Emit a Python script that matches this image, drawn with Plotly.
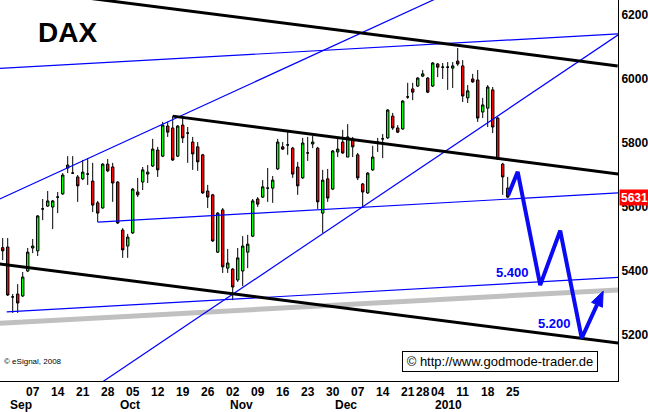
import math
import plotly.graph_objects as go

# ---------------- data ----------------
opens = [5473, 5475, 5319, 5328, 5322, 5400, 5472, 5463, 5594, 5603,
         5600, 5631, 5641, 5722, 5706, 5694, 5688, 5703, 5681, 5613,
         5597, 5734, 5725, 5678, 5528, 5478, 5519, 5647, 5678, 5703,
         5728, 5778, 5759, 5853, 5847, 5759, 5856, 5831, 5803, 5788,
         5763, 5650, 5638, 5459, 5591, 5409, 5406, 5372, 5400, 5459,
         5509, 5625, 5631, 5659, 5659, 5719, 5788, 5794, 5784, 5725,
         5691, 5769, 5797, 5784, 5581, 5688, 5656, 5772, 5803, 5756,
         5813, 5763, 5672, 5644, 5716, 5800, 5813, 5816, 5884, 5847,
         5844, 5944, 5969, 5978, 6009, 6003, 5978, 6047, 6037, 6037,
         6034, 6056, 6041, 5941, 6000, 5997, 5897, 5909, 5966, 5878,
         5734, 5659]
highs = [5503, 5503, 5328, 5359, 5397, 5472, 5500, 5575, 5625, 5650,
         5622, 5647, 5706, 5759, 5759, 5700, 5747, 5753, 5738, 5619,
         5737, 5750, 5738, 5681, 5534, 5516, 5659, 5691, 5725, 5731,
         5813, 5788, 5866, 5866, 5884, 5856, 5878, 5850, 5819, 5803,
         5766, 5669, 5641, 5584, 5597, 5469, 5409, 5472, 5509, 5513,
         5625, 5631, 5684, 5722, 5697, 5813, 5803, 5841, 5788, 5741,
         5816, 5819, 5822, 5788, 5716, 5719, 5778, 5816, 5841, 5859,
         5819, 5769, 5675, 5709, 5791, 5816, 5828, 5906, 5894, 5856,
         5934, 5988, 5988, 6006, 6028, 6006, 6053, 6050, 6050, 6053,
         6053, 6097, 6059, 5981, 6016, 6028, 5941, 5981, 5975, 5881,
         5738, 5694]
lows = [5434, 5322, 5269, 5269, 5319, 5397, 5456, 5447, 5559, 5600,
        5531, 5581, 5638, 5706, 5703, 5616, 5684, 5669, 5584, 5553,
        5595, 5709, 5616, 5547, 5441, 5441, 5516, 5631, 5653, 5675,
        5725, 5694, 5756, 5819, 5744, 5756, 5800, 5738, 5716, 5713,
        5641, 5597, 5491, 5456, 5394, 5394, 5309, 5366, 5353, 5409,
        5506, 5600, 5628, 5616, 5613, 5716, 5778, 5763, 5691, 5638,
        5688, 5744, 5784, 5594, 5519, 5616, 5653, 5756, 5766, 5756,
        5756, 5684, 5600, 5641, 5713, 5772, 5753, 5813, 5841, 5831,
        5841, 5938, 5934, 5975, 6006, 5956, 5975, 6006, 6000, 5966,
        5972, 6041, 5928, 5925, 5988, 5866, 5878, 5850, 5831, 5747,
        5638, 5628]
closes = [5463, 5325, 5319, 5300, 5381, 5459, 5478, 5572, 5594, 5619,
          5619, 5631, 5700, 5731, 5706, 5666, 5709, 5703, 5606, 5581,
          5734, 5713, 5675, 5550, 5466, 5506, 5656, 5638, 5716, 5709,
          5781, 5716, 5856, 5834, 5747, 5853, 5816, 5831, 5766, 5741,
          5644, 5631, 5494, 5581, 5413, 5425, 5350, 5441, 5478, 5484,
          5619, 5609, 5663, 5659, 5684, 5803, 5781, 5794, 5703, 5666,
          5800, 5769, 5803, 5616, 5684, 5628, 5775, 5781, 5769, 5819,
          5788, 5691, 5647, 5706, 5756, 5803, 5813, 5903, 5847, 5834,
          5931, 5944, 5959, 6003, 6016, 5959, 6050, 6037, 6037, 6037,
          6041, 6047, 5947, 5963, 5991, 5878, 5919, 5975, 5850, 5750,
          5694, 5631]
day_index = list(range(len(opens)))          # trading-day positions

# x-axis ticks (trading-day index of each Monday) and labels
tick_index = [6, 11, 16, 21, 26, 31, 36, 41, 46, 51, 56, 61, 66, 71, 76,
              81, 84, 87, 92, 97, 102]
tick_text = ["07", "14", "21", "28", "05", "12", "19", "26", "02", "09",
             "16", "23", "30", "07", "14", "21", "28", "04", "11", "18", "25"]
month_index = [2, 24, 46, 67, 87]
month_text = ["Sep", "Oct", "Nov", "Dec", "2010"]

y_ticks = [5200, 5400, 5600, 5800, 6000, 6200]
last_price = 5631

# trend lines (x = trading-day index, y = index level)
black_upper_x, black_upper_y = [0, 123], [6287, 6041]
black_mid_x, black_mid_y = [34, 123.1], [5884, 5703]
black_low_x, black_low_y = [-0.6, 123.1], [5422, 5175]
blue_top_x, blue_top_y = [-0.6, 123.1], [6033, 6141]
blue_steep1_x, blue_steep1_y = [-0.6, 90], [5625, 6275]
blue_steep2_x, blue_steep2_y = [18, 123.1], [5033, 6138]
blue_mid_x, blue_mid_y = [19, 123.1], [5553, 5644]
blue_low_x, blue_low_y = [0.8, 123.1], [5272, 5380]
gray_x, gray_y = [-0.6, 123.1], [5237, 5341]

# projected path
proj_x = [101.1, 103.0, 107.5, 111.5, 115.8, 120.1]
proj_y = [5637, 5710, 5356, 5526, 5190, 5337]
proj_labels = ["5.400", "5.200"]
proj_label_x = [102.0, 110.4]
proj_label_y = [5394, 5237]

# ---------------- figure ----------------
X_RANGE = [-0.54, 123.06]
Y_RANGE = [5056.3, 6246.9]
PW, PH = 618, 381
FONT = "Liberation Sans, Arial, sans-serif"

fig = go.Figure()
fig.add_trace(go.Candlestick(
    x=day_index, open=opens, high=highs, low=lows, close=closes,
    increasing=dict(line=dict(color="black", width=1), fillcolor="#00FF00"),
    decreasing=dict(line=dict(color="black", width=1), fillcolor="#FF0000"),
    whiskerwidth=0, hoverinfo="skip",
))

def add_line(x, y, color, width):
    fig.add_trace(go.Scatter(x=x, y=y, mode="lines",
                             line=dict(color=color, width=width),
                             hoverinfo="skip"))

add_line(gray_x, gray_y, "#C0C0C0", 5)
add_line(blue_top_x, blue_top_y, "#0000FF", 1.2)
add_line(blue_steep1_x, blue_steep1_y, "#0000FF", 1.2)
add_line(blue_steep2_x, blue_steep2_y, "#0000FF", 1.2)
add_line(blue_mid_x, blue_mid_y, "#0000FF", 1.2)
add_line(blue_low_x, blue_low_y, "#0000FF", 1.2)
add_line(black_upper_x, black_upper_y, "black", 3)
add_line(black_mid_x, black_mid_y, "black", 3)
add_line(black_low_x, black_low_y, "black", 3)

# projection arrow: polyline + head computed in pixel space
sx = PW / (X_RANGE[1] - X_RANGE[0])
sy = PH / (Y_RANGE[1] - Y_RANGE[0])
dx = (proj_x[-1] - proj_x[-2]) * sx
dy = (proj_y[-1] - proj_y[-2]) * sy
L = math.hypot(dx, dy)
ux, uy = dx / L, dy / L
hl, hw = 15, 6
bx, by = -hl * ux, -hl * uy
px_, py_ = -uy, ux
base_x = proj_x[-1] + bx / sx
base_y = proj_y[-1] + by / sy
head_x = [proj_x[-1], proj_x[-1] + (bx + hw * px_) / sx,
          proj_x[-1] + (bx - hw * px_) / sx, proj_x[-1]]
head_y = [proj_y[-1], proj_y[-1] + (by + hw * py_) / sy,
          proj_y[-1] + (by - hw * py_) / sy, proj_y[-1]]
add_line(proj_x[:-1] + [base_x], proj_y[:-1] + [base_y], "#0A0AF5", 4)
fig.add_trace(go.Scatter(x=head_x, y=head_y, mode="lines", fill="toself",
                         fillcolor="#0A0AF5", line=dict(color="#0A0AF5", width=1),
                         hoverinfo="skip"))

annotations = []
for t, x, y in zip(proj_labels, proj_label_x, proj_label_y):
    annotations.append(dict(x=x, y=y, xref="x", yref="y", text=t, showarrow=False,
                            font=dict(family=FONT, size=13, color="#0000FF", weight="bold")))
for t, x in zip(month_text, month_index):
    annotations.append(dict(x=x, y=-24 / PH, xref="x", yref="paper", text=t,
                            showarrow=False, xanchor="left", yanchor="middle", xshift=-5,
                            font=dict(family=FONT, size=12, color="black", weight="bold")))
annotations += [
    dict(x=36 / PW, y=1 - 33 / PH, xref="paper", yref="paper", text="DAX",
         showarrow=False, xanchor="left", yanchor="middle",
         font=dict(family=FONT, size=28, color="black", weight="bold")),
    dict(x=2 / PW, y=(PH - 361) / PH, xref="paper", yref="paper", text="© eSignal, 2008",
         showarrow=False, xanchor="left", yanchor="middle",
         font=dict(family=FONT, size=8, color="black")),
    dict(x=500 / PW, y=(PH - 361.5) / PH, xref="paper", yref="paper",
         text="© http://www.godmode-trader.de", showarrow=False,
         xanchor="center", yanchor="middle", width=194, height=19,
         bgcolor="white", bordercolor="black", borderwidth=1, borderpad=0,
         font=dict(family=FONT, size=13, color="black")),
    dict(x=1, y=last_price, xref="paper", yref="y", text=str(last_price),
         showarrow=False, xanchor="left", yanchor="middle", xshift=1,
         width=29, height=15, bgcolor="#FF0000", borderpad=0,
         font=dict(family=FONT, size=12, color="white", weight="bold")),
]

fig.update_layout(
    width=648, height=412,
    margin=dict(l=0, r=30, t=0, b=31, pad=0),
    paper_bgcolor="white", plot_bgcolor="white",
    showlegend=False,
    annotations=annotations,
    xaxis=dict(range=X_RANGE, rangeslider=dict(visible=False), showgrid=False,
               zeroline=False, showline=True, linecolor="black", linewidth=1,
               tickmode="array", tickvals=tick_index, ticktext=tick_text,
               tickangle=0, ticks="", fixedrange=True,
               tickfont=dict(family=FONT, size=12, color="black", weight="bold")),
    yaxis=dict(range=Y_RANGE, side="right", showgrid=False, zeroline=False,
               showline=True, linecolor="black", linewidth=1,
               tickmode="array", tickvals=y_ticks, ticks="", fixedrange=True,
               tickfont=dict(family=FONT, size=12, color="black", weight="bold")),
)

fig.write_html("out.html", config={"displayModeBar": False},
               post_script="document.body.style.margin='0';document.body.style.overflow='hidden';")
